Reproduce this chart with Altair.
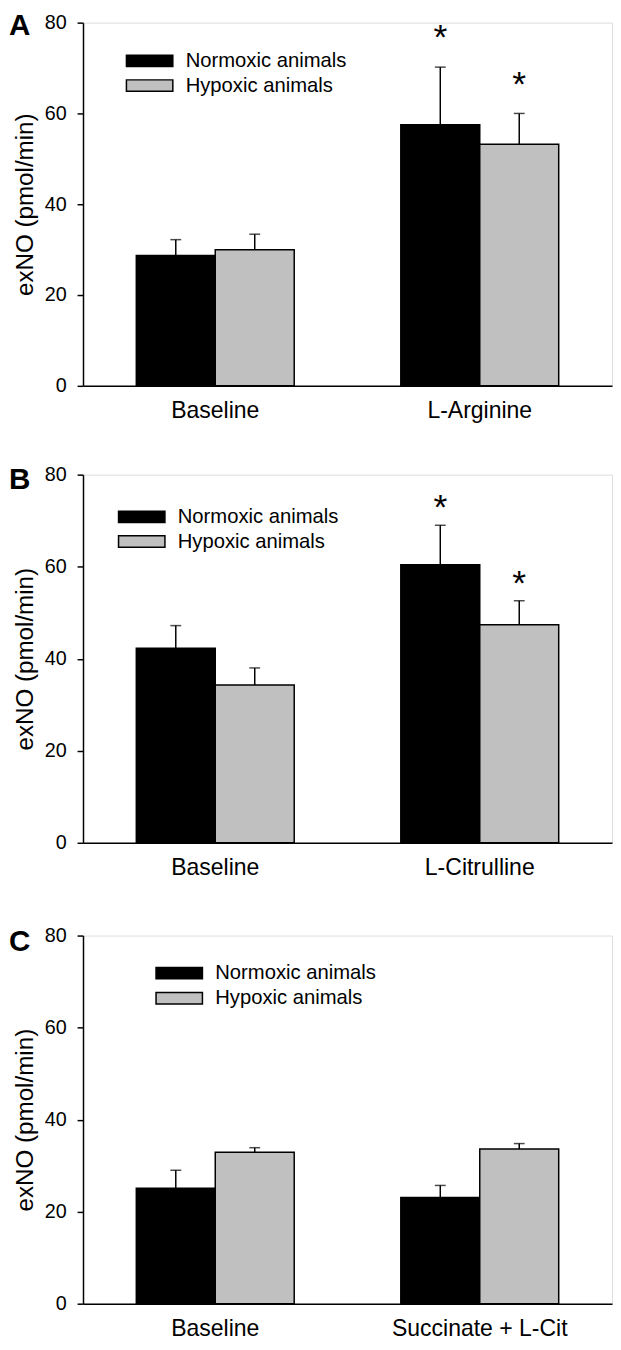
import altair as alt
import pandas as pd

FONT = "Liberation Sans"
groups = ["Normoxic animals", "Hypoxic animals"]
colors = ["#000000", "#c0c0c0"]
yticks = [0, 20, 40, 60, 80]
ytitle = "exNO (pmol/min)"

# Panel A
cats_a = ["Baseline", "L-Arginine"]
norm_a = [28.7, 57.5]
norm_err_a = [3.5, 12.7]
hyp_a = [30.0, 53.2]
hyp_err_a = [3.4, 6.8]
sig_a = [False, True]

# Panel B
cats_b = ["Baseline", "L-Citrulline"]
norm_b = [42.3, 60.4]
norm_err_b = [4.9, 8.6]
hyp_b = [34.3, 47.4]
hyp_err_b = [3.7, 5.2]
sig_b = [False, True]

# Panel C
cats_c = ["Baseline", "Succinate + L-Cit"]
norm_c = [25.1, 23.1]
norm_err_c = [3.9, 2.6]
hyp_c = [32.9, 33.6]
hyp_err_c = [1.0, 1.2]
sig_c = [False, False]


def make_df(cats, norm, nerr, hyp, herr, sig):
    rows = []
    for i, c in enumerate(cats):
        for g, v, e in ((groups[0], norm[i], nerr[i]), (groups[1], hyp[i], herr[i])):
            rows.append({"cat": c, "group": g, "value": v, "upper": v + e,
                         "star": "*" if sig[i] else ""})
    return pd.DataFrame(rows)


def panel(letter, cats, norm, nerr, hyp, herr, sig, height, leg_x, leg_y, leg_gap, star_dy, letter_y):
    df = make_df(cats, norm, nerr, hyp, herr, sig)
    base = alt.Chart(df)
    x = alt.X("cat:N", sort=cats,
              scale=alt.Scale(domain=cats, paddingInner=0.403, paddingOuter=0.2015),
              axis=alt.Axis(title=None, labelAngle=0, ticks=False, tickSize=0,
                            labelPadding=14, labelFontSize=23.3, labelFont=FONT,
                            labelColor="black", domainColor="black", domainWidth=1.5))
    xo = alt.XOffset("group:N", sort=groups, scale=alt.Scale(domain=groups))
    y = alt.Y("value:Q", scale=alt.Scale(domain=[0, 80], nice=False),
              axis=alt.Axis(values=yticks, title=ytitle, grid=False,
                            tickSize=6, tickWidth=1.5, tickColor="black",
                            domainColor="black", domainWidth=1.5,
                            labelFontSize=20, labelFont=FONT, labelColor="black",
                            labelPadding=11, titleFontSize=24.5, titleFont=FONT,
                            titleFontWeight="normal", titleColor="black",
                            titlePadding=7))
    color = alt.Color("group:N", scale=alt.Scale(domain=groups, range=colors), legend=None)

    bars = base.mark_bar(stroke="black", strokeWidth=1.5).encode(x=x, xOffset=xo, y=y, color=color)
    err = base.mark_rule(color="black", strokeWidth=1.5).encode(
        x=x, xOffset=xo, y="value:Q", y2="upper:Q")
    cap = base.mark_tick(color="black", size=11, thickness=1.5).encode(
        x=x, xOffset=xo, y="upper:Q")
    stars = base.transform_filter(alt.datum.star != "").mark_text(
        fontSize=36, font=FONT, color="black", baseline="alphabetic", dy=star_dy).encode(
        x=x, xOffset=xo, y="upper:Q", text="star:N")

    lab = alt.Chart(pd.DataFrame({"t": [letter]})).mark_text(
        fontSize=30, font=FONT, fontWeight="bold", color="black",
        align="left", baseline="alphabetic").encode(
        x=alt.value(-75), y=alt.value(letter_y), text="t:N")

    layers = [bars, err, cap, stars, lab]
    for i, g in enumerate(groups):
        gdf = pd.DataFrame({"g": [g]})
        ty = leg_y + i * leg_gap
        sw = alt.Chart(gdf).mark_rect(stroke="black", strokeWidth=1.5, fill=colors[i]).encode(
            x=alt.value(leg_x), x2=alt.value(leg_x + 47),
            y=alt.value(ty), y2=alt.value(ty + 11.5))
        tx = alt.Chart(gdf).mark_text(fontSize=20.5, font=FONT, color="black",
                                      align="left", baseline="middle").encode(
            x=alt.value(leg_x + 60), y=alt.value(ty + 6), text="g:N")
        layers += [sw, tx]
    return alt.layer(*layers).properties(width=536, height=height)


pa = panel("A", cats_a, norm_a, norm_err_a, hyp_a, hyp_err_a, sig_a, 368, 44, 33, 25, -18, 13)
pb = panel("B", cats_b, norm_b, norm_err_b, hyp_b, hyp_err_b, sig_b, 373, 36, 37, 25, -6, 14.4)
pc = panel("C", cats_c, norm_c, norm_err_c, hyp_c, hyp_err_c, sig_c, 373, 74, 32.3, 25.5, -2, 16)

inner = alt.vconcat(pb, pc, spacing=46).resolve_scale(x="independent")
chart = alt.vconcat(pa, inner, spacing=42).resolve_scale(x="independent").properties(
    padding={"left": 0, "top": -6, "right": 0, "bottom": -5}
).configure_view(stroke=None).configure(font=FONT)

chart.save("out.html", embed_options={"renderer": "svg", "actions": False})
